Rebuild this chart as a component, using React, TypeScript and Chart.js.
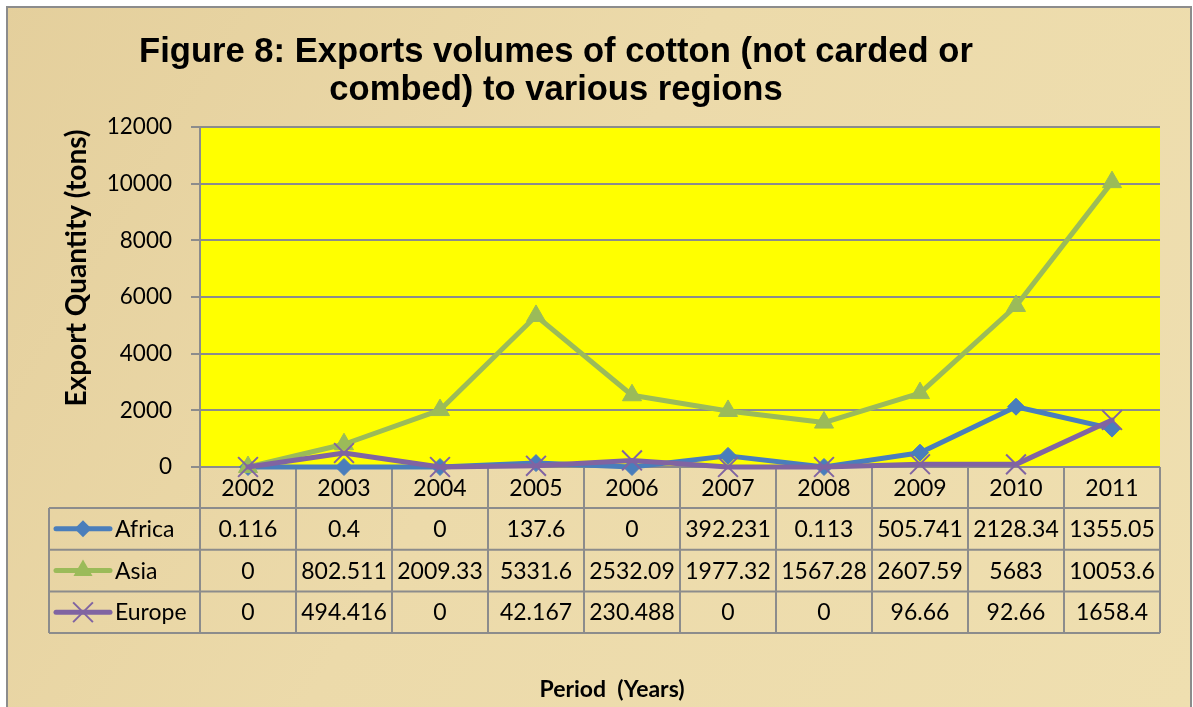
import React, { useEffect, useRef } from "react";
import { Chart, registerables } from "chart.js";

Chart.register(...registerables);

const titleLines = ["Figure 8: Exports volumes of cotton (not carded or", "combed) to various regions"];
const yAxisTitle = "Export Quantity (tons)";
const xAxisTitle = "Period  (Years)";

const years = ["2002", "2003", "2004", "2005", "2006", "2007", "2008", "2009", "2010", "2011"];
const africa = [0.116, 0.4, 0, 137.6, 0, 392.231, 0.113, 505.741, 2128.34, 1355.05];
const asia = [0, 802.511, 2009.33, 5331.6, 2532.09, 1977.32, 1567.28, 2607.59, 5683, 10053.6];
const europe = [0, 494.416, 0, 42.167, 230.488, 0, 0, 96.66, 92.66, 1658.4];

const seriesNames = ["Africa", "Asia", "Europe"];
const seriesColors = ["#4A7EBB", "#9BBB59", "#8064A2"];
const seriesStyles = ["rectRot", "triangle", "crossRot"];
const seriesRadius = [8.5, 11, 14];
const seriesData = [africa, asia, europe];

const yMin = 0;
const yMax = 12000;
const yStep = 2000;

const GRID = "#8C8C8C";
const FONT = "Lato, 'Open Sans', sans-serif";

function drawMarker(ctx: CanvasRenderingContext2D, style: string, x: number, y: number, r: number, color: string) {
  ctx.save();
  ctx.fillStyle = color;
  ctx.strokeStyle = color;
  ctx.beginPath();
  if (style === "rectRot") {
    ctx.moveTo(x, y - r);
    ctx.lineTo(x + r, y);
    ctx.lineTo(x, y + r);
    ctx.lineTo(x - r, y);
    ctx.closePath();
    ctx.fill();
  } else if (style === "triangle") {
    let rad = 0;
    ctx.moveTo(x + Math.sin(rad) * r, y - Math.cos(rad) * r);
    rad += (2 * Math.PI) / 3;
    ctx.lineTo(x + Math.sin(rad) * r, y - Math.cos(rad) * r);
    rad += (2 * Math.PI) / 3;
    ctx.lineTo(x + Math.sin(rad) * r, y - Math.cos(rad) * r);
    ctx.closePath();
    ctx.fill();
  } else {
    const o = r * Math.SQRT1_2;
    ctx.lineWidth = 2;
    ctx.moveTo(x - o, y - o);
    ctx.lineTo(x + o, y + o);
    ctx.moveTo(x - o, y + o);
    ctx.lineTo(x + o, y - o);
    ctx.stroke();
  }
  ctx.restore();
}

const decorPlugin = {
  id: "decor",
  beforeDraw(chart: any) {
    const { ctx, chartArea: a, width, height } = chart;
    ctx.save();
    ctx.fillStyle = "#FFFFFF";
    ctx.fillRect(0, 0, width, height);
    const g = ctx.createLinearGradient(0, 0, width, height);
    g.addColorStop(0, "#E4CF9C");
    g.addColorStop(0.45, "#ECDAAA");
    g.addColorStop(1, "#EFDFB0");
    ctx.fillStyle = g;
    ctx.fillRect(8, 8, 1182, height);
    ctx.strokeStyle = GRID;
    ctx.lineWidth = 2;
    ctx.strokeRect(7, 7, 1184, height + 20);
    ctx.fillStyle = "#FFFF00";
    ctx.fillRect(a.left, a.top, a.right - a.left, a.bottom - a.top);
    ctx.restore();
  },
  beforeDatasetsDraw(chart: any) {
    const { ctx, chartArea: a } = chart;
    const xs = chart.scales.x;
    const n = years.length;
    const colW = (a.right - a.left) / n;
    const legendLeft = 49;
    const y0 = a.bottom;
    const y1 = y0 + 41;
    const rowH = 41.7;
    const rows = [y1, y1 + rowH, y1 + 2 * rowH, y1 + 3 * rowH];
    ctx.save();
    ctx.strokeStyle = GRID;
    ctx.lineWidth = 2;
    ctx.beginPath();
    for (const ry of rows) {
      ctx.moveTo(legendLeft, ry);
      ctx.lineTo(a.right, ry);
    }
    for (let i = 0; i <= n; i++) {
      const x = a.left + i * colW;
      ctx.moveTo(x, y0);
      ctx.lineTo(x, rows[3]);
    }
    ctx.moveTo(legendLeft, y1);
    ctx.lineTo(legendLeft, rows[3]);
    ctx.stroke();

    ctx.fillStyle = "#000";
    ctx.font = `23px ${FONT}`;
    ctx.textAlign = "center";
    ctx.textBaseline = "alphabetic";
    years.forEach((yr, i) => {
      ctx.fillText(yr, xs.getPixelForValue(i), (y0 + y1) / 2 + 8);
    });
    seriesData.forEach((arr, s) => {
      const cy = (rows[s] + rows[s + 1]) / 2;
      arr.forEach((v, i) => {
        ctx.fillText(String(v), xs.getPixelForValue(i), cy + 8);
      });
      ctx.save();
      ctx.strokeStyle = seriesColors[s];
      ctx.lineWidth = 5;
      ctx.lineCap = "round";
      ctx.beginPath();
      ctx.moveTo(56, cy);
      ctx.lineTo(110, cy);
      ctx.stroke();
      ctx.restore();
      drawMarker(ctx, seriesStyles[s], 83, cy, seriesRadius[s], seriesColors[s]);
      ctx.textAlign = "left";
      ctx.fillText(seriesNames[s], 115, cy + 8);
      ctx.textAlign = "center";
    });
    ctx.restore();
  },
  afterDraw(chart: any) {
    const { ctx } = chart;
    ctx.save();
    ctx.fillStyle = "#000";
    ctx.textAlign = "center";
    ctx.textBaseline = "alphabetic";
    ctx.font = "bold 34.6px 'Liberation Sans', Arial, sans-serif";
    ctx.fillText(titleLines[0], 556, 62);
    ctx.fillText(titleLines[1], 556, 100);

    ctx.font = `bold 23px ${FONT}`;
    ctx.fillText(xAxisTitle, 612, 697);

    ctx.translate(86, 268);
    ctx.rotate(-Math.PI / 2);
    ctx.font = `bold 28px ${FONT}`;
    ctx.fillText(yAxisTitle, 0, 0);
    ctx.restore();
  },
};

export default function App() {
  const ref = useRef<HTMLCanvasElement>(null);
  useEffect(() => {
    document.body.style.margin = "0";
    const chart = new Chart(ref.current!, {
      type: "line",
      data: {
        labels: years,
        datasets: seriesNames.map((name, s) => ({
          label: name,
          data: seriesData[s],
          borderColor: seriesColors[s],
          backgroundColor: seriesColors[s],
          pointBackgroundColor: seriesColors[s],
          pointBorderColor: seriesColors[s],
          borderWidth: 5,
          pointStyle: seriesStyles[s] as any,
          pointRadius: seriesRadius[s],
          pointBorderWidth: s === 2 ? 2 : 1,
          borderJoinStyle: "round" as const,
          borderCapStyle: "round" as const,
          tension: 0,
          clip: false as any,
          order: 2 - s,
        })),
      },
      options: {
        responsive: false,
        animation: false,
        devicePixelRatio: 1,
        layout: { padding: { left: 0, right: 33, top: 127, bottom: 0 } },
        plugins: {
          legend: { display: false },
          title: { display: false },
          tooltip: { enabled: false },
        },
        scales: {
          x: {
            type: "category",
            offset: true,
            grid: { display: false },
            border: { display: false },
            ticks: { display: false },
            afterFit: (s: any) => {
              s.height = 240;
            },
          },
          y: {
            min: yMin,
            max: yMax,
            ticks: {
              stepSize: yStep,
              color: "#000",
              font: { family: FONT, size: 22.5 },
              padding: 19,
              callback: (v: any) => String(v),
            },
            grid: { color: GRID, lineWidth: 2, tickLength: 9 },
            border: { color: GRID, width: 2 },
            afterFit: (s: any) => {
              s.width = 200;
            },
          },
        },
      },
      plugins: [decorPlugin],
    });
    return () => chart.destroy();
  }, []);
  return (
    <div style={{ width: 1193, height: 707 }}>
      <canvas ref={ref} width={1193} height={707} style={{ display: "block" }} />
    </div>
  );
}
